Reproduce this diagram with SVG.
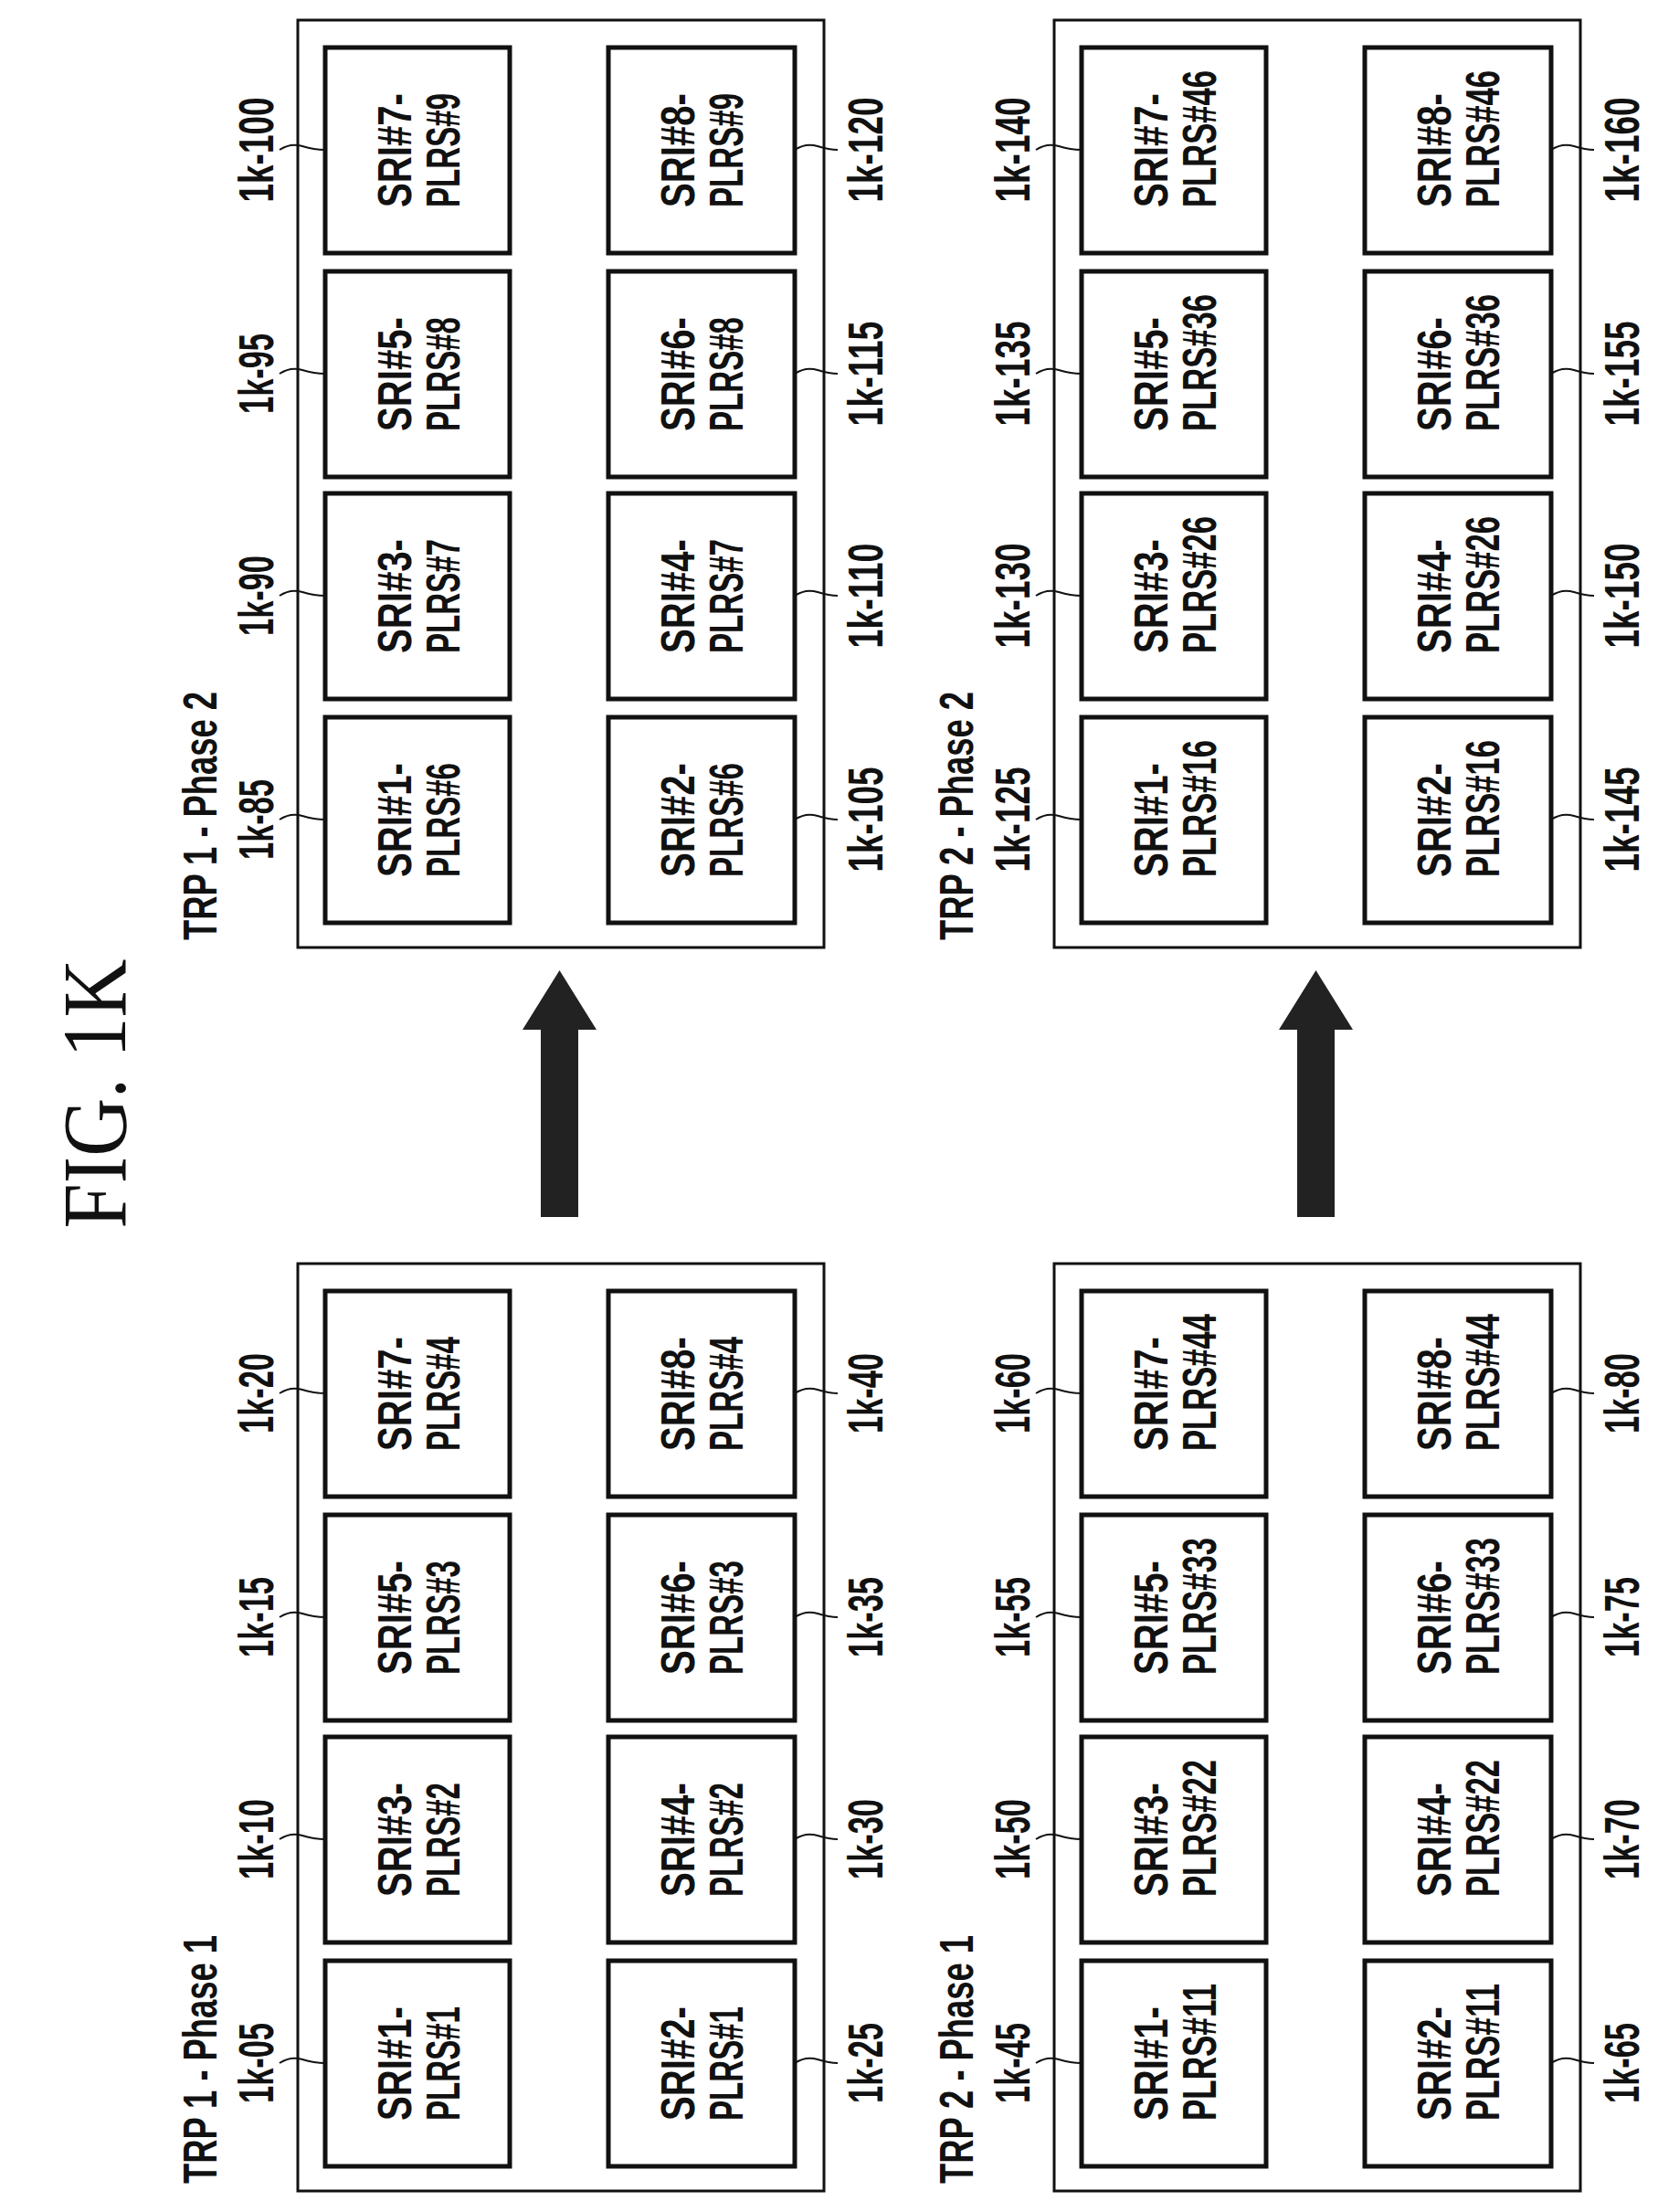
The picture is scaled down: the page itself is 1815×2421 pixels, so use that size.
<svg xmlns="http://www.w3.org/2000/svg" width="1815" height="2421" viewBox="0 0 1815 2421">
<style>
.outer{fill:none;stroke:#111;stroke-width:3}
.box{fill:#fff;stroke:#111;stroke-width:5}
.t{font-family:"Liberation Sans",Arial,sans-serif;font-weight:bold;font-size:52px;fill:#111}
.lb{font-family:"Liberation Sans",Arial,sans-serif;font-weight:bold;font-size:54px;fill:#111;text-anchor:middle}
.ld{fill:none;stroke:#111;stroke-width:2}
.arr{fill:#222}
</style>
<rect width="1815" height="2421" fill="#fff"/>
<text transform="translate(137,1197) rotate(-90)" font-family="Liberation Serif,serif" font-size="100" text-anchor="middle" textLength="295" lengthAdjust="spacingAndGlyphs" fill="#111">FIG. 1K</text>

<!-- TRP1 Phase1 -->
<g id="trp1-phase1" transform="translate(326,1383)">
<rect class="outer" x="0" y="0" width="576" height="1015"/>
<text class="t" transform="translate(-89,1007) rotate(-90)" textLength="272" lengthAdjust="spacingAndGlyphs">TRP 1 - Phase 1</text>
<g id="n1k-20"><rect class="box" x="30" y="30" width="202" height="225"/><text class="t" transform="translate(124,205) rotate(-90)" textLength="125" lengthAdjust="spacingAndGlyphs">SRI#7-</text><text class="t" transform="translate(177,205) rotate(-90)" textLength="125" lengthAdjust="spacingAndGlyphs">PLRS#4</text><text class="lb" transform="translate(-27,142) rotate(-90)" textLength="88" lengthAdjust="spacingAndGlyphs">1k-20</text></g>
<g id="n1k-15"><rect class="box" x="30" y="275" width="202" height="225"/><text class="t" transform="translate(124,450) rotate(-90)" textLength="125" lengthAdjust="spacingAndGlyphs">SRI#5-</text><text class="t" transform="translate(177,450) rotate(-90)" textLength="125" lengthAdjust="spacingAndGlyphs">PLRS#3</text><text class="lb" transform="translate(-27,387) rotate(-90)" textLength="88" lengthAdjust="spacingAndGlyphs">1k-15</text></g>
<g id="n1k-10"><rect class="box" x="30" y="518" width="202" height="225"/><text class="t" transform="translate(124,693) rotate(-90)" textLength="125" lengthAdjust="spacingAndGlyphs">SRI#3-</text><text class="t" transform="translate(177,693) rotate(-90)" textLength="125" lengthAdjust="spacingAndGlyphs">PLRS#2</text><text class="lb" transform="translate(-27,630) rotate(-90)" textLength="88" lengthAdjust="spacingAndGlyphs">1k-10</text></g>
<g id="n1k-05"><rect class="box" x="30" y="763" width="202" height="225"/><text class="t" transform="translate(124,938) rotate(-90)" textLength="125" lengthAdjust="spacingAndGlyphs">SRI#1-</text><text class="t" transform="translate(177,938) rotate(-90)" textLength="125" lengthAdjust="spacingAndGlyphs">PLRS#1</text><text class="lb" transform="translate(-27,875) rotate(-90)" textLength="88" lengthAdjust="spacingAndGlyphs">1k-05</text></g>
<g id="n1k-40"><rect class="box" x="340" y="30" width="204" height="225"/><text class="t" transform="translate(434,205) rotate(-90)" textLength="125" lengthAdjust="spacingAndGlyphs">SRI#8-</text><text class="t" transform="translate(487,205) rotate(-90)" textLength="125" lengthAdjust="spacingAndGlyphs">PLRS#4</text><text class="lb" transform="translate(640,142) rotate(-90)" textLength="88" lengthAdjust="spacingAndGlyphs">1k-40</text></g>
<g id="n1k-35"><rect class="box" x="340" y="275" width="204" height="225"/><text class="t" transform="translate(434,450) rotate(-90)" textLength="125" lengthAdjust="spacingAndGlyphs">SRI#6-</text><text class="t" transform="translate(487,450) rotate(-90)" textLength="125" lengthAdjust="spacingAndGlyphs">PLRS#3</text><text class="lb" transform="translate(640,387) rotate(-90)" textLength="88" lengthAdjust="spacingAndGlyphs">1k-35</text></g>
<g id="n1k-30"><rect class="box" x="340" y="518" width="204" height="225"/><text class="t" transform="translate(434,693) rotate(-90)" textLength="125" lengthAdjust="spacingAndGlyphs">SRI#4-</text><text class="t" transform="translate(487,693) rotate(-90)" textLength="125" lengthAdjust="spacingAndGlyphs">PLRS#2</text><text class="lb" transform="translate(640,630) rotate(-90)" textLength="88" lengthAdjust="spacingAndGlyphs">1k-30</text></g>
<g id="n1k-25"><rect class="box" x="340" y="763" width="204" height="225"/><text class="t" transform="translate(434,938) rotate(-90)" textLength="125" lengthAdjust="spacingAndGlyphs">SRI#2-</text><text class="t" transform="translate(487,938) rotate(-90)" textLength="125" lengthAdjust="spacingAndGlyphs">PLRS#1</text><text class="lb" transform="translate(640,875) rotate(-90)" textLength="88" lengthAdjust="spacingAndGlyphs">1k-25</text></g>
</g>

<!-- TRP1 Phase2 -->
<g id="trp1-phase2" transform="translate(326,22)">
<rect class="outer" x="0" y="0" width="576" height="1015"/>
<text class="t" transform="translate(-89,1007) rotate(-90)" textLength="272" lengthAdjust="spacingAndGlyphs">TRP 1 - Phase 2</text>
<g id="n1k-100"><rect class="box" x="30" y="30" width="202" height="225"/><text class="t" transform="translate(124,205) rotate(-90)" textLength="125" lengthAdjust="spacingAndGlyphs">SRI#7-</text><text class="t" transform="translate(177,205) rotate(-90)" textLength="125" lengthAdjust="spacingAndGlyphs">PLRS#9</text><text class="lb" transform="translate(-27,142) rotate(-90)" textLength="115" lengthAdjust="spacingAndGlyphs">1k-100</text></g>
<g id="n1k-95"><rect class="box" x="30" y="275" width="202" height="225"/><text class="t" transform="translate(124,450) rotate(-90)" textLength="125" lengthAdjust="spacingAndGlyphs">SRI#5-</text><text class="t" transform="translate(177,450) rotate(-90)" textLength="125" lengthAdjust="spacingAndGlyphs">PLRS#8</text><text class="lb" transform="translate(-27,387) rotate(-90)" textLength="88" lengthAdjust="spacingAndGlyphs">1k-95</text></g>
<g id="n1k-90"><rect class="box" x="30" y="518" width="202" height="225"/><text class="t" transform="translate(124,693) rotate(-90)" textLength="125" lengthAdjust="spacingAndGlyphs">SRI#3-</text><text class="t" transform="translate(177,693) rotate(-90)" textLength="125" lengthAdjust="spacingAndGlyphs">PLRS#7</text><text class="lb" transform="translate(-27,630) rotate(-90)" textLength="88" lengthAdjust="spacingAndGlyphs">1k-90</text></g>
<g id="n1k-85"><rect class="box" x="30" y="763" width="202" height="225"/><text class="t" transform="translate(124,938) rotate(-90)" textLength="125" lengthAdjust="spacingAndGlyphs">SRI#1-</text><text class="t" transform="translate(177,938) rotate(-90)" textLength="125" lengthAdjust="spacingAndGlyphs">PLRS#6</text><text class="lb" transform="translate(-27,875) rotate(-90)" textLength="88" lengthAdjust="spacingAndGlyphs">1k-85</text></g>
<g id="n1k-120"><rect class="box" x="340" y="30" width="204" height="225"/><text class="t" transform="translate(434,205) rotate(-90)" textLength="125" lengthAdjust="spacingAndGlyphs">SRI#8-</text><text class="t" transform="translate(487,205) rotate(-90)" textLength="125" lengthAdjust="spacingAndGlyphs">PLRS#9</text><text class="lb" transform="translate(640,142) rotate(-90)" textLength="115" lengthAdjust="spacingAndGlyphs">1k-120</text></g>
<g id="n1k-115"><rect class="box" x="340" y="275" width="204" height="225"/><text class="t" transform="translate(434,450) rotate(-90)" textLength="125" lengthAdjust="spacingAndGlyphs">SRI#6-</text><text class="t" transform="translate(487,450) rotate(-90)" textLength="125" lengthAdjust="spacingAndGlyphs">PLRS#8</text><text class="lb" transform="translate(640,387) rotate(-90)" textLength="115" lengthAdjust="spacingAndGlyphs">1k-115</text></g>
<g id="n1k-110"><rect class="box" x="340" y="518" width="204" height="225"/><text class="t" transform="translate(434,693) rotate(-90)" textLength="125" lengthAdjust="spacingAndGlyphs">SRI#4-</text><text class="t" transform="translate(487,693) rotate(-90)" textLength="125" lengthAdjust="spacingAndGlyphs">PLRS#7</text><text class="lb" transform="translate(640,630) rotate(-90)" textLength="115" lengthAdjust="spacingAndGlyphs">1k-110</text></g>
<g id="n1k-105"><rect class="box" x="340" y="763" width="204" height="225"/><text class="t" transform="translate(434,938) rotate(-90)" textLength="125" lengthAdjust="spacingAndGlyphs">SRI#2-</text><text class="t" transform="translate(487,938) rotate(-90)" textLength="125" lengthAdjust="spacingAndGlyphs">PLRS#6</text><text class="lb" transform="translate(640,875) rotate(-90)" textLength="115" lengthAdjust="spacingAndGlyphs">1k-105</text></g>
</g>

<!-- TRP2 Phase1 -->
<g id="trp2-phase1" transform="translate(1154,1383)">
<rect class="outer" x="0" y="0" width="576" height="1015"/>
<text class="t" transform="translate(-89,1007) rotate(-90)" textLength="272" lengthAdjust="spacingAndGlyphs">TRP 2 - Phase 1</text>
<g id="n1k-60"><rect class="box" x="30" y="30" width="202" height="225"/><text class="t" transform="translate(124,205) rotate(-90)" textLength="125" lengthAdjust="spacingAndGlyphs">SRI#7-</text><text class="t" transform="translate(177,205) rotate(-90)" textLength="150" lengthAdjust="spacingAndGlyphs">PLRS#44</text><text class="lb" transform="translate(-27,142) rotate(-90)" textLength="88" lengthAdjust="spacingAndGlyphs">1k-60</text></g>
<g id="n1k-55"><rect class="box" x="30" y="275" width="202" height="225"/><text class="t" transform="translate(124,450) rotate(-90)" textLength="125" lengthAdjust="spacingAndGlyphs">SRI#5-</text><text class="t" transform="translate(177,450) rotate(-90)" textLength="150" lengthAdjust="spacingAndGlyphs">PLRS#33</text><text class="lb" transform="translate(-27,387) rotate(-90)" textLength="88" lengthAdjust="spacingAndGlyphs">1k-55</text></g>
<g id="n1k-50"><rect class="box" x="30" y="518" width="202" height="225"/><text class="t" transform="translate(124,693) rotate(-90)" textLength="125" lengthAdjust="spacingAndGlyphs">SRI#3-</text><text class="t" transform="translate(177,693) rotate(-90)" textLength="150" lengthAdjust="spacingAndGlyphs">PLRS#22</text><text class="lb" transform="translate(-27,630) rotate(-90)" textLength="88" lengthAdjust="spacingAndGlyphs">1k-50</text></g>
<g id="n1k-45"><rect class="box" x="30" y="763" width="202" height="225"/><text class="t" transform="translate(124,938) rotate(-90)" textLength="125" lengthAdjust="spacingAndGlyphs">SRI#1-</text><text class="t" transform="translate(177,938) rotate(-90)" textLength="150" lengthAdjust="spacingAndGlyphs">PLRS#11</text><text class="lb" transform="translate(-27,875) rotate(-90)" textLength="88" lengthAdjust="spacingAndGlyphs">1k-45</text></g>
<g id="n1k-80"><rect class="box" x="340" y="30" width="204" height="225"/><text class="t" transform="translate(434,205) rotate(-90)" textLength="125" lengthAdjust="spacingAndGlyphs">SRI#8-</text><text class="t" transform="translate(487,205) rotate(-90)" textLength="150" lengthAdjust="spacingAndGlyphs">PLRS#44</text><text class="lb" transform="translate(640,142) rotate(-90)" textLength="88" lengthAdjust="spacingAndGlyphs">1k-80</text></g>
<g id="n1k-75"><rect class="box" x="340" y="275" width="204" height="225"/><text class="t" transform="translate(434,450) rotate(-90)" textLength="125" lengthAdjust="spacingAndGlyphs">SRI#6-</text><text class="t" transform="translate(487,450) rotate(-90)" textLength="150" lengthAdjust="spacingAndGlyphs">PLRS#33</text><text class="lb" transform="translate(640,387) rotate(-90)" textLength="88" lengthAdjust="spacingAndGlyphs">1k-75</text></g>
<g id="n1k-70"><rect class="box" x="340" y="518" width="204" height="225"/><text class="t" transform="translate(434,693) rotate(-90)" textLength="125" lengthAdjust="spacingAndGlyphs">SRI#4-</text><text class="t" transform="translate(487,693) rotate(-90)" textLength="150" lengthAdjust="spacingAndGlyphs">PLRS#22</text><text class="lb" transform="translate(640,630) rotate(-90)" textLength="88" lengthAdjust="spacingAndGlyphs">1k-70</text></g>
<g id="n1k-65"><rect class="box" x="340" y="763" width="204" height="225"/><text class="t" transform="translate(434,938) rotate(-90)" textLength="125" lengthAdjust="spacingAndGlyphs">SRI#2-</text><text class="t" transform="translate(487,938) rotate(-90)" textLength="150" lengthAdjust="spacingAndGlyphs">PLRS#11</text><text class="lb" transform="translate(640,875) rotate(-90)" textLength="88" lengthAdjust="spacingAndGlyphs">1k-65</text></g>
</g>

<!-- TRP2 Phase2 -->
<g id="trp2-phase2" transform="translate(1154,22)">
<rect class="outer" x="0" y="0" width="576" height="1015"/>
<text class="t" transform="translate(-89,1007) rotate(-90)" textLength="272" lengthAdjust="spacingAndGlyphs">TRP 2 - Phase 2</text>
<g id="n1k-140"><rect class="box" x="30" y="30" width="202" height="225"/><text class="t" transform="translate(124,205) rotate(-90)" textLength="125" lengthAdjust="spacingAndGlyphs">SRI#7-</text><text class="t" transform="translate(177,205) rotate(-90)" textLength="150" lengthAdjust="spacingAndGlyphs">PLRS#46</text><text class="lb" transform="translate(-27,142) rotate(-90)" textLength="115" lengthAdjust="spacingAndGlyphs">1k-140</text></g>
<g id="n1k-135"><rect class="box" x="30" y="275" width="202" height="225"/><text class="t" transform="translate(124,450) rotate(-90)" textLength="125" lengthAdjust="spacingAndGlyphs">SRI#5-</text><text class="t" transform="translate(177,450) rotate(-90)" textLength="150" lengthAdjust="spacingAndGlyphs">PLRS#36</text><text class="lb" transform="translate(-27,387) rotate(-90)" textLength="115" lengthAdjust="spacingAndGlyphs">1k-135</text></g>
<g id="n1k-130"><rect class="box" x="30" y="518" width="202" height="225"/><text class="t" transform="translate(124,693) rotate(-90)" textLength="125" lengthAdjust="spacingAndGlyphs">SRI#3-</text><text class="t" transform="translate(177,693) rotate(-90)" textLength="150" lengthAdjust="spacingAndGlyphs">PLRS#26</text><text class="lb" transform="translate(-27,630) rotate(-90)" textLength="115" lengthAdjust="spacingAndGlyphs">1k-130</text></g>
<g id="n1k-125"><rect class="box" x="30" y="763" width="202" height="225"/><text class="t" transform="translate(124,938) rotate(-90)" textLength="125" lengthAdjust="spacingAndGlyphs">SRI#1-</text><text class="t" transform="translate(177,938) rotate(-90)" textLength="150" lengthAdjust="spacingAndGlyphs">PLRS#16</text><text class="lb" transform="translate(-27,875) rotate(-90)" textLength="115" lengthAdjust="spacingAndGlyphs">1k-125</text></g>
<g id="n1k-160"><rect class="box" x="340" y="30" width="204" height="225"/><text class="t" transform="translate(434,205) rotate(-90)" textLength="125" lengthAdjust="spacingAndGlyphs">SRI#8-</text><text class="t" transform="translate(487,205) rotate(-90)" textLength="150" lengthAdjust="spacingAndGlyphs">PLRS#46</text><text class="lb" transform="translate(640,142) rotate(-90)" textLength="115" lengthAdjust="spacingAndGlyphs">1k-160</text></g>
<g id="n1k-155"><rect class="box" x="340" y="275" width="204" height="225"/><text class="t" transform="translate(434,450) rotate(-90)" textLength="125" lengthAdjust="spacingAndGlyphs">SRI#6-</text><text class="t" transform="translate(487,450) rotate(-90)" textLength="150" lengthAdjust="spacingAndGlyphs">PLRS#36</text><text class="lb" transform="translate(640,387) rotate(-90)" textLength="115" lengthAdjust="spacingAndGlyphs">1k-155</text></g>
<g id="n1k-150"><rect class="box" x="340" y="518" width="204" height="225"/><text class="t" transform="translate(434,693) rotate(-90)" textLength="125" lengthAdjust="spacingAndGlyphs">SRI#4-</text><text class="t" transform="translate(487,693) rotate(-90)" textLength="150" lengthAdjust="spacingAndGlyphs">PLRS#26</text><text class="lb" transform="translate(640,630) rotate(-90)" textLength="115" lengthAdjust="spacingAndGlyphs">1k-150</text></g>
<g id="n1k-145"><rect class="box" x="340" y="763" width="204" height="225"/><text class="t" transform="translate(434,938) rotate(-90)" textLength="125" lengthAdjust="spacingAndGlyphs">SRI#2-</text><text class="t" transform="translate(487,938) rotate(-90)" textLength="150" lengthAdjust="spacingAndGlyphs">PLRS#16</text><text class="lb" transform="translate(640,875) rotate(-90)" textLength="115" lengthAdjust="spacingAndGlyphs">1k-145</text></g>
</g>

<g id="connectors">
<g transform="translate(326,1383)">
<path class="ld" d="M-20,142 q12,-8 25,-4 t25,4 M-20,387 q12,-8 25,-4 t25,4 M-20,630 q12,-8 25,-4 t25,4 M-20,875 q12,-8 25,-4 t25,4"/>
<path class="ld" d="M544,142 q12,-8 25,-4 t22,4 M544,387 q12,-8 25,-4 t22,4 M544,630 q12,-8 25,-4 t22,4 M544,875 q12,-8 25,-4 t22,4"/>
</g>
<g transform="translate(326,22)">
<path class="ld" d="M-20,142 q12,-8 25,-4 t25,4 M-20,387 q12,-8 25,-4 t25,4 M-20,630 q12,-8 25,-4 t25,4 M-20,875 q12,-8 25,-4 t25,4"/>
<path class="ld" d="M544,142 q12,-8 25,-4 t22,4 M544,387 q12,-8 25,-4 t22,4 M544,630 q12,-8 25,-4 t22,4 M544,875 q12,-8 25,-4 t22,4"/>
</g>
<g transform="translate(1154,1383)">
<path class="ld" d="M-20,142 q12,-8 25,-4 t25,4 M-20,387 q12,-8 25,-4 t25,4 M-20,630 q12,-8 25,-4 t25,4 M-20,875 q12,-8 25,-4 t25,4"/>
<path class="ld" d="M544,142 q12,-8 25,-4 t22,4 M544,387 q12,-8 25,-4 t22,4 M544,630 q12,-8 25,-4 t22,4 M544,875 q12,-8 25,-4 t22,4"/>
</g>
<g transform="translate(1154,22)">
<path class="ld" d="M-20,142 q12,-8 25,-4 t25,4 M-20,387 q12,-8 25,-4 t25,4 M-20,630 q12,-8 25,-4 t25,4 M-20,875 q12,-8 25,-4 t25,4"/>
<path class="ld" d="M544,142 q12,-8 25,-4 t22,4 M544,387 q12,-8 25,-4 t22,4 M544,630 q12,-8 25,-4 t22,4 M544,875 q12,-8 25,-4 t22,4"/>
</g>
<polygon class="arr" points="592,1332 633,1332 633,1127 653,1127 612.5,1062 572,1127 592,1127"/>
<polygon class="arr" points="1420,1332 1461,1332 1461,1127 1481,1127 1440.5,1062 1400,1127 1420,1127"/>
</g>
</svg>
